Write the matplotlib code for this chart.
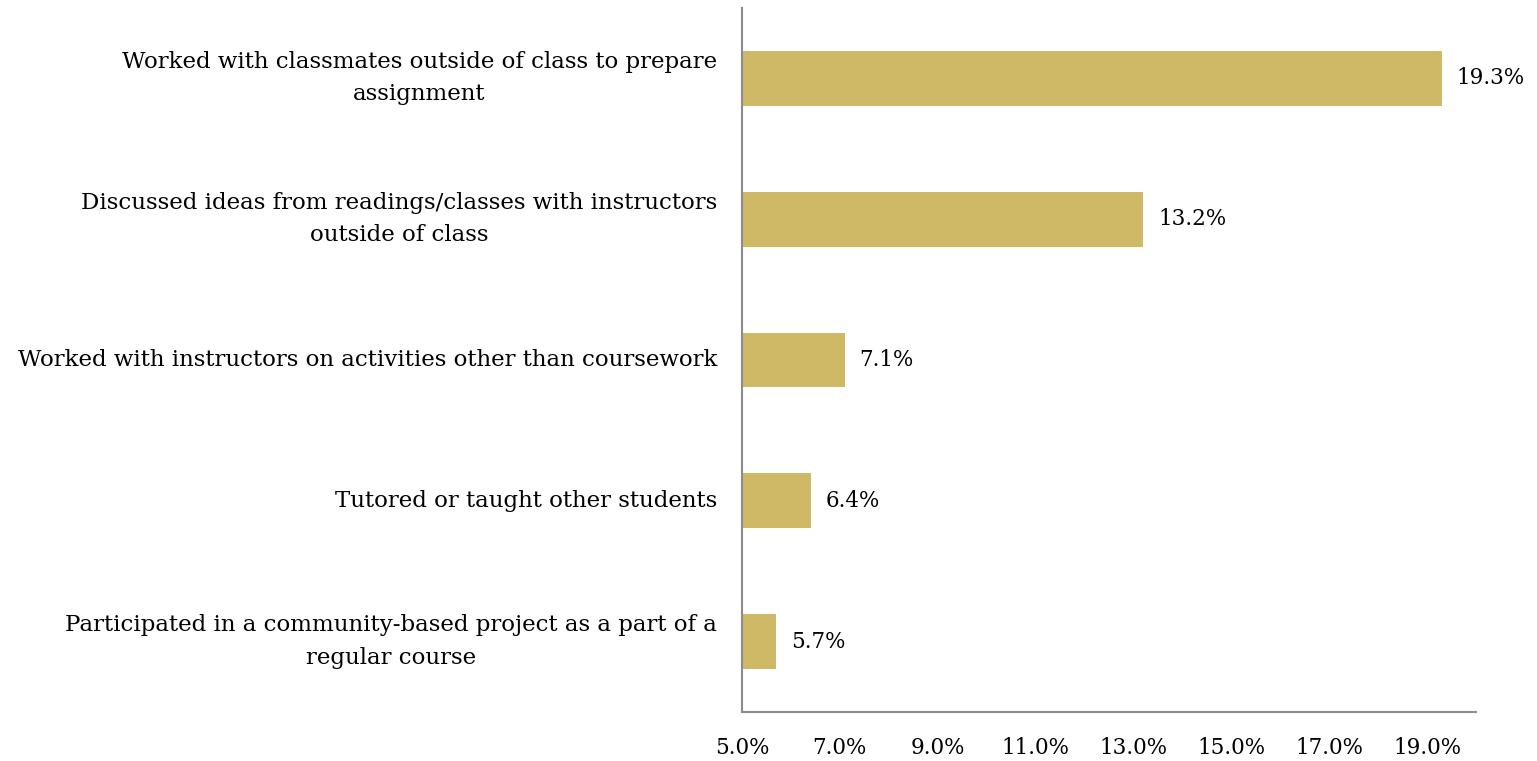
import matplotlib.pyplot as plt
from matplotlib.ticker import FuncFormatter

categories = [
    "Worked with classmates outside of class to prepare\nassignment",
    "Discussed ideas from readings/classes with instructors\noutside of class",
    "Worked with instructors on activities other than coursework",
    "Tutored or taught other students",
    "Participated in a community-based project as a part of a\nregular course",
]
values = [19.3, 13.2, 7.1, 6.4, 5.7]
xticks = [5, 7, 9, 11, 13, 15, 17, 19]

bar_color = "#CFB966"
spine_color = "#8C8C8C"

plt.rcParams['font.family'] = ['DejaVu Serif']

fig = plt.figure(figsize=(15.37, 7.61), dpi=100)
ax = fig.add_axes([0.4828, 0.0644, 0.4775, 0.9251])

base = 5.0
pos = list(range(len(categories)))
ax.barh(pos, [v - base for v in values], left=base, height=0.39, color=bar_color)

for p, v in zip(pos, values):
    ax.text(v + 0.3, p, f"{v:.1f}%", va="center", ha="left", fontsize=15.5, color="black")

ax.set_xlim(5, 20)
ax.set_ylim(len(categories) - 0.5, -0.5)
ax.set_yticks(pos)
ax.set_yticklabels(categories, fontsize=16.5, multialignment="center", linespacing=1.6, va="center")
ax.set_xticks(xticks)
ax.xaxis.set_major_formatter(FuncFormatter(lambda x, _: f"{x:.1f}%"))
ax.tick_params(axis="x", labelsize=15.5, length=0, pad=18)
ax.tick_params(axis="y", length=0, pad=18)

for s in ["top", "right"]:
    ax.spines[s].set_visible(False)
for s in ["left", "bottom"]:
    ax.spines[s].set_color(spine_color)
    ax.spines[s].set_linewidth(1.5)

fig.savefig("out.png", dpi=100)
